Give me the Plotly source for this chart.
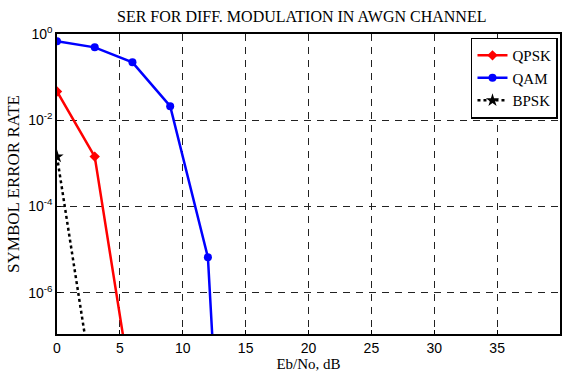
import plotly.graph_objects as go

ebno_qpsk = [0, 3, 6]
ser_qpsk = [4.65e-2, 1.43e-3, 4.2e-9]

ebno_qam = [0, 3, 6, 9, 12, 15]
ser_qam = [0.676, 0.49, 0.22, 2.12e-2, 6.6e-6, 1.3e-21]

ebno_bpsk = [0, 3]
ser_bpsk = [1.43e-3, 3.5e-9]

xticks = [0, 5, 10, 15, 20, 25, 30, 35]
yticks = [1, 1e-2, 1e-4, 1e-6]
yticktext = ["10<sup>0</sup>", "10<sup>-2</sup>", "10<sup>-4</sup>", "10<sup>-6</sup>"]

serif = "Liberation Serif"
sans = "Liberation Sans"

fig = go.Figure()
fig.add_trace(go.Scatter(x=ebno_qpsk, y=ser_qpsk, name="QPSK", mode="lines+markers",
                         line=dict(color="#ff0000", width=2.5),
                         marker=dict(symbol="diamond", size=8, color="#ff0000")))
fig.add_trace(go.Scatter(x=ebno_qam, y=ser_qam, name="QAM", mode="lines+markers",
                         line=dict(color="#0000ff", width=2.5),
                         marker=dict(symbol="circle", size=8, color="#0000ff")))
fig.add_trace(go.Scatter(x=ebno_bpsk, y=ser_bpsk, name="BPSK", mode="lines+markers",
                         line=dict(color="#000000", width=2.5, dash="dot"),
                         marker=dict(symbol="star", size=10, color="#000000")))

fig.update_layout(
    width=564, height=372,
    margin=dict(l=57, r=2, t=34, b=38),
    paper_bgcolor="white", plot_bgcolor="white",
    title=dict(text="SER FOR DIFF. MODULATION IN AWGN CHANNEL", x=0.535, xanchor="center",
               y=0.955, yanchor="middle", font=dict(family=serif, size=16, color="black")),
    showlegend=True,
    legend=dict(x=0.996, xanchor="right", y=0.988, yanchor="top",
                bgcolor="white", bordercolor="black", borderwidth=1.5,
                font=dict(family=serif, size=15, color="black"),
                tracegroupgap=0, itemwidth=30),
    xaxis=dict(range=[0, 40], tickvals=xticks, showgrid=True, griddash="7px,6px",
               gridcolor="#222222", gridwidth=1, showline=True, linecolor="black",
               linewidth=1.5, mirror=True, ticks="inside", ticklen=4, tickcolor="black",
               zeroline=False, tickfont=dict(family=sans, size=14, color="black"),
               title=dict(text="Eb/No, dB", font=dict(family=serif, size=15, color="black"),
                          standoff=2)),
    yaxis=dict(type="log", range=[-6.96, 0], tickvals=yticks, ticktext=yticktext,
               showgrid=True, griddash="7px,6px", gridcolor="#222222", gridwidth=1,
               showline=True, linecolor="black", linewidth=1.5, mirror=True,
               ticks="inside", ticklen=4, tickcolor="black", zeroline=False,
               tickfont=dict(family=sans, size=14, color="black"),
               title=dict(text="SYMBOL ERROR RATE", font=dict(family=serif, size=17, color="black"),
                          standoff=4)),
)

fig.write_html("out.html")
